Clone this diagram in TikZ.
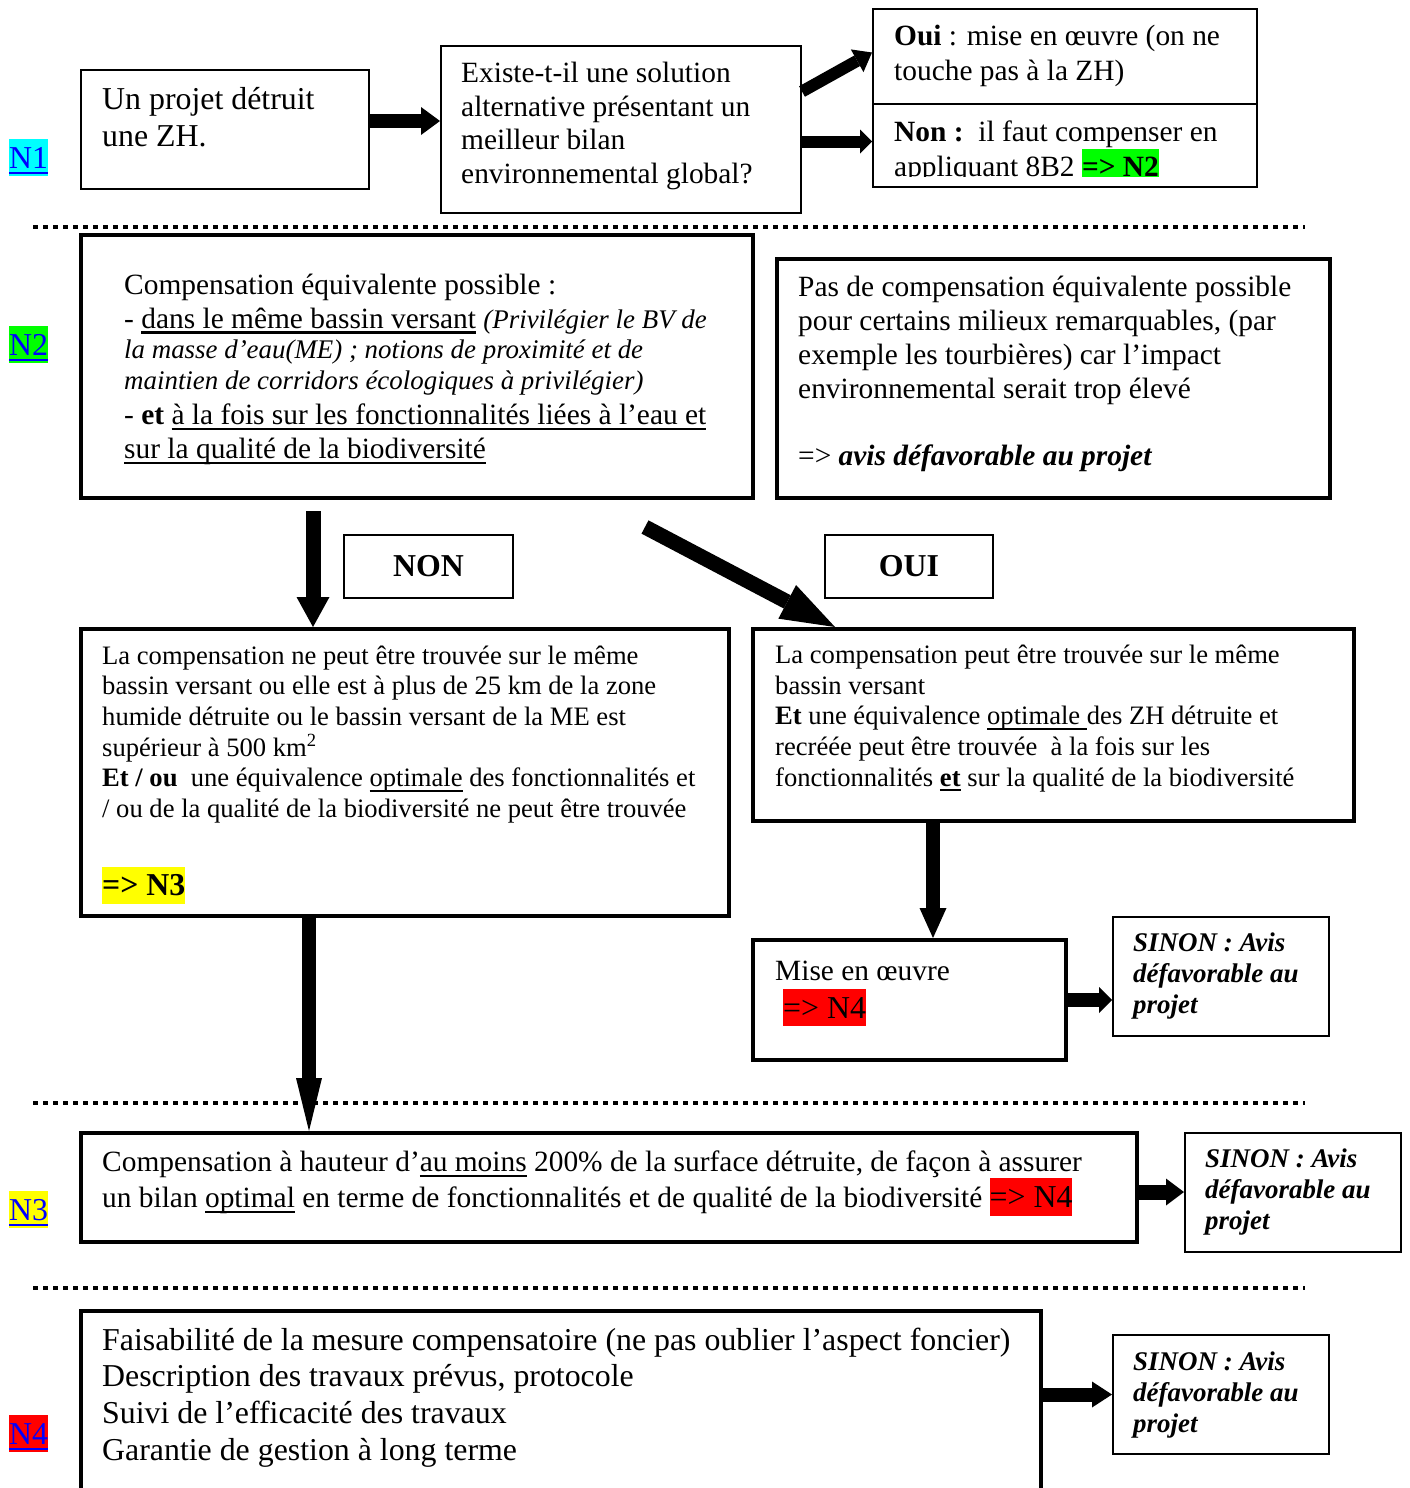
\documentclass[tikz,border=0pt]{standalone}
\usepackage{fontspec}
\setmainfont{Liberation Serif}
\usetikzlibrary{arrows.meta,calc}
\definecolor{hlcyan}{RGB}{0,255,255}
\definecolor{hlgreen}{RGB}{0,255,0}
\definecolor{hlyellow}{RGB}{255,255,0}
\definecolor{hlred}{RGB}{255,0,0}
\definecolor{lblblue}{RGB}{0,0,255}
\newcommand\st{\rule{0pt}{1em}}
\newcommand\hlbox[2]{{\setlength{\fboxsep}{0pt}\colorbox{#1}{\rule[-0.25em]{0pt}{1.17em}#2}}}
\newcommand\myul[1]{\setbox0\hbox{#1}\rlap{\rule[-0.19em]{\wd0}{0.075em}}\box0\relax}
\newcommand\fXIII{\fontsize{31.85}{36.6}\selectfont}
\newcommand\fXII{\fontsize{29.4}{33.8}\selectfont}
\newcommand\fXI{\fontsize{26.6}{30.6}\selectfont}
\newcommand\fIt{\fontsize{26.9}{31}\selectfont\itshape}
\tikzset{
  thinbox/.style={draw, line width=2pt, inner sep=0pt},
  thickbox/.style={draw, line width=4pt, inner sep=0pt},
  txt/.style={anchor=north west, inner sep=0pt, align=left},
  dotline/.style={line width=4.5pt, dash pattern=on 4.5pt off 5.5pt},
  blk/.style n args={3}{line width=#1, -{Triangle[length=#2,width=#3,line width=0pt]}},
  sinon/.style={txt, font=\fontsize{26.95}{31}\selectfont\bfseries\itshape},
  lbl/.style={txt, font=\fXIII, text=lblblue}
}
\begin{document}
\begin{tikzpicture}[x=1pt,y=-1pt]
\fill[white] (0,0) rectangle (1409,1488);
\useasboundingbox (0,0) rectangle (1409,1488);

% dotted separators
\draw[dotline] (33,227) -- (1305,227);
\draw[dotline] (33,1103) -- (1305,1103);
\draw[dotline] (33,1288) -- (1305,1288);

% level labels
\node[lbl] (lN1) at (9,136.15) {\st\hlbox{hlcyan}{\myul{N1}}};
\node[lbl] (lN2) at (9,323.15) {\st\hlbox{hlgreen}{\myul{N2}}};
\node[lbl] (lN3) at (9,1188.15) {\st\hlbox{hlyellow}{\myul{N3}}};
\node[lbl] (lN4) at (9,1412.15) {\st\hlbox{hlred}{\myul{N4}}};

% boxes
\node[thinbox, minimum width=288pt, minimum height=119pt] (A) at (225,129.5) {};
\node[thinbox, minimum width=360pt, minimum height=167pt] (B) at (621,129.5) {};
\node[thinbox, minimum width=384pt, minimum height=95pt] (Coui) at (1065,56.5) {};
\node[thinbox, minimum width=384pt, minimum height=83pt] (Cnon) at (1065,145.5) {};
\node[thickbox, minimum width=672pt, minimum height=263pt] (N2L) at (417,366.5) {};
\node[thickbox, minimum width=553pt, minimum height=239pt] (N2R) at (1053.5,378.5) {};
\node[thinbox, minimum width=169pt, minimum height=63pt, font=\fXIII\bfseries] (NONl) at (428.5,566.5) {NON};
\node[thinbox, minimum width=168pt, minimum height=63pt, font=\fXIII\bfseries] (OUIl) at (909,566.5) {OUI};
\node[thickbox, minimum width=648pt, minimum height=287pt] (NONr) at (405,772.5) {};
\node[thickbox, minimum width=601pt, minimum height=192pt] (OUIr) at (1053.5,725) {};
\node[thickbox, minimum width=313pt, minimum height=120pt] (Mise) at (909.5,1000) {};
\node[thinbox, minimum width=216pt, minimum height=119pt] (SIN1) at (1221,976.5) {};
\node[thickbox, minimum width=1056pt, minimum height=109pt] (N3b) at (609,1187.5) {};
\node[thinbox, minimum width=216pt, minimum height=119pt] (SIN2) at (1293,1192.5) {};
\node[thickbox, minimum width=960pt, minimum height=209pt] (N4b) at (561,1415.5) {};
\node[thinbox, minimum width=216pt, minimum height=119pt] (SIN3) at (1221,1394.5) {};

% texts
\node[txt, font=\fontsize{31.85}{37}\selectfont] (tA) at (102,77.65) {\st Un projet détruit\\une ZH.};
\node[txt, font=\fXII] (tB) at (461,52.6) {\st Existe-t-il une solution\\alternative présentant un\\meilleur bilan\\environnemental global?};
\node[txt, font=\fontsize{29.4}{35}\selectfont] (tCoui) at (894,15.6) {\st\textbf{Oui} : mise en œuvre (on ne\\touche pas à la ZH)};
\begin{scope}
\clip (874,105) rectangle (1256,176);
\node[txt, font=\fontsize{29.4}{33.3}\selectfont] (tCnon) at (894,112.3) {\st\textbf{Non :}\ \ il faut compenser en\\appliquant 8B2 \hlbox{hlgreen}{\textbf{=> N2}}};
\end{scope}
\node[txt, font=\fXII] (tN2L) at (124,264.6) {\st Compensation équivalente possible :\\
- \myul{dans le même bassin versant} {\fIt(Privilégier le BV de}\\[-3pt]
{\fIt la masse d’eau(ME) ; notions de proximité et de}\\[-3pt]
{\fIt maintien de corridors écologiques à privilégier)}\\[1pt]
- \textbf{et} \myul{à la fois sur les fonctionnalités liées à l’eau et}\\
\myul{sur la qualité de la biodiversité}};
\node[txt, font=\fXII] (tN2R) at (798,267.3) {\st Pas de compensation équivalente possible\\
pour certains milieux remarquables, (par\\
exemple les tourbières) car l’impact\\
environnemental serait trop élevé\\[33.8pt]
=> \textbf{\textit{avis défavorable au projet}}};
\node[txt, font=\fXI] (tNONr) at (102,637.4) {\st La compensation ne peut être trouvée sur le même\\
bassin versant ou elle est à plus de 25 km de la zone\\
humide détruite ou le bassin versant de la ME est\\
supérieur à 500 km\textsuperscript{2}\\
\textbf{Et / ou}\ \ une équivalence \myul{optimale} des fonctionnalités et\\
/ ou de la qualité de la biodiversité ne peut être trouvée\\[42.7pt]
{\fXIII\bfseries\hlbox{hlyellow}{=> N3}}};
\node[txt, font=\fXI] (tOUIr) at (775,636.9) {\st La compensation peut être trouvée sur le même\\
bassin versant\\
\textbf{Et} une équivalence \myul{optimale }des ZH détruite et\\
recréée peut être trouvée\ \ à la fois sur les\\
fonctionnalités \myul{\textbf{et}} sur la qualité de la biodiversité};
\node[txt, font=\fXII] (tMise) at (775,950.6) {\st Mise en œuvre\\[4.2pt]
\hspace*{8pt}{\fXIII\hlbox{hlred}{=> N4}}};
\node[sinon] (tSIN1) at (1133,924.05) {\st SINON : Avis\\défavorable au\\projet};
\node[txt, font=\fontsize{29.4}{34}\selectfont] (tN3) at (102,1141.6) {\st Compensation à hauteur d’\myul{au moins} 200\% de la surface détruite, de façon à assurer\\
un bilan \myul{optimal} en terme de fonctionnalités et de qualité de la biodiversité {\fXIII\hlbox{hlred}{=> N4}}};
\node[sinon] (tSIN2) at (1205,1140.05) {\st SINON : Avis\\défavorable au\\projet};
\node[txt, font=\fontsize{31.85}{36.7}\selectfont] (tN4) at (102,1318.15) {\st Faisabilité de la mesure compensatoire (ne pas oublier l’aspect foncier)\\
Description des travaux prévus, protocole\\
Suivi de l’efficacité des travaux\\
Garantie de gestion à long terme};
\node[sinon] (tSIN3) at (1133,1343.05) {\st SINON : Avis\\défavorable au\\projet};

% connectors
\coordinate (nonS) at (313,511);
\coordinate (ouiS) at (645,527);
\draw[blk={14pt}{19pt}{28pt}] ([yshift=8.5pt]A.east) -- ([yshift=8.5pt]B.west);
\draw[blk={12pt}{17pt}{26pt}] ([yshift=38pt]B.east) -- ([yshift=4pt]Coui.west);
\draw[blk={12pt}{12pt}{24pt}] ([yshift=-12pt]B.east) -- ([yshift=-12pt]B.east -| Cnon.west);
\draw[blk={15pt}{30pt}{33pt}] (nonS) -- (nonS |- NONr.north);
\draw[blk={15pt}{54pt}{38pt}] (ouiS) -- ([xshift=84pt]OUIr.north west);
\draw[blk={14pt}{53pt}{26pt}] ([xshift=230pt]NONr.south west) -- ([xshift=230pt]NONr.south west |- N3b.north);
\draw[blk={14pt}{30pt}{27pt}] ([xshift=182pt]OUIr.south west) -- ([xshift=182pt]OUIr.south west |- Mise.north);
\draw[blk={14pt}{13pt}{26pt}] (Mise.east) -- (Mise.east -| SIN1.west);
\draw[blk={15pt}{18pt}{27pt}] ([yshift=-4.5pt]N3b.east) -- ([yshift=-4.5pt]N3b.east -| SIN2.west);
\draw[blk={14pt}{20pt}{26pt}] (SIN3.west -| N4b.east) -- (SIN3.west);
\end{tikzpicture}
\end{document}
